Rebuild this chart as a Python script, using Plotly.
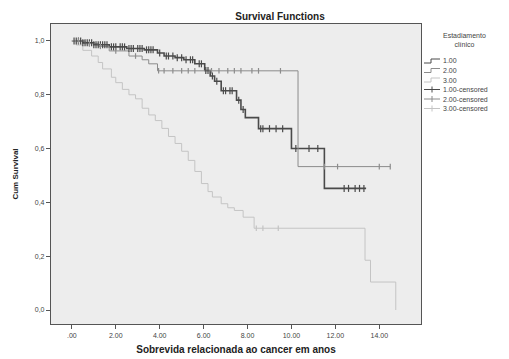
import plotly.graph_objects as go
import numpy as np

# ---- data ----
group_labels = ["1.00", "2.00", "3.00"]
censor_labels = ["1.00-censored", "2.00-censored", "3.00-censored"]

times1 = [0, 0.5, 1.0, 1.7, 2.5, 3.3, 3.9, 4.2, 4.7, 5.1, 5.6, 6.05, 6.3, 6.5, 6.8, 7.5, 7.7, 7.9, 8.5, 10.0, 11.5, 13.4]
surv1 = [1.0, 0.993, 0.986, 0.978, 0.972, 0.967, 0.955, 0.944, 0.938, 0.93, 0.915, 0.89, 0.87, 0.85, 0.815, 0.78, 0.745, 0.715, 0.674, 0.60, 0.452, 0.452]

times2 = [0, 0.6, 1.2, 1.7, 2.6, 3.2, 3.5, 3.9, 10.3, 14.5]
surv2 = [1.0, 0.99, 0.98, 0.963, 0.944, 0.93, 0.915, 0.889, 0.533, 0.533]

times3 = [0, 0.2, 0.5, 0.9, 1.2, 1.4, 1.8, 2.0, 2.3, 2.6, 2.9, 3.2, 3.5, 3.8, 4.1, 4.4, 4.7, 5.0,
          5.3, 5.6, 5.9, 6.2, 6.4, 6.8, 7.1, 7.4, 7.8, 8.3, 13.35, 13.6, 14.75]
surv3 = [1.0, 0.985, 0.965, 0.944, 0.92, 0.896, 0.865, 0.845, 0.82, 0.80, 0.785, 0.75, 0.725, 0.704, 0.675, 0.645, 0.619, 0.59,
         0.556, 0.515, 0.47, 0.44, 0.42, 0.395, 0.38, 0.37, 0.345, 0.304, 0.185, 0.104, 0.0]

cens1_t = [0.1, 0.2, 0.3, 0.4, 0.5, 0.6, 0.7, 0.8, 0.9, 1.0, 1.1, 1.2, 1.3, 1.4, 1.5, 1.6, 1.8, 1.9, 2.0, 2.2, 2.3,
           2.4, 2.6, 2.7, 2.8, 3.0, 3.1, 3.2, 3.4, 3.5, 3.6, 3.7, 4.0, 4.3, 4.4, 4.6, 4.8, 5.0, 5.2, 5.4, 5.5,
           5.8, 5.9, 6.1, 6.2, 6.4, 6.6, 6.9, 7.0, 7.2, 7.3, 7.6, 7.8, 8.6, 8.7, 9.0, 9.3, 9.6, 10.2, 10.8,
           11.2, 12.4, 12.6, 12.9, 13.1, 13.3]
cens2_t = [0.3, 0.8, 1.3, 2.0, 2.9, 3.95, 4.2, 4.6, 5.0, 5.3, 5.6, 6.36, 6.7, 7.1, 7.4, 7.7, 8.2, 8.5, 9.5,
           11.5, 12.1, 14.0, 14.5]
cens3_t = [8.4, 8.7, 9.4]

x_ticks = [0, 2, 4, 6, 8, 10, 12, 14]
x_tick_text = [".00", "2.00", "4.00", "6.00", "8.00", "10.00", "12.00", "14.00"]
y_ticks = [0.0, 0.2, 0.4, 0.6, 0.8, 1.0]
y_tick_text = ["0,0", "0,2", "0,4", "0,6", "0,8", "1,0"]

colors = ["#4a4a4a", "#8c8c8c", "#c4c4c4"]
widths = [1.6, 1.0, 1.0]
mark_sizes = [5, 4, 4]


def step_value(ts, ss, t):
    idx = np.searchsorted(ts, t, side="right") - 1
    return ss[max(idx, 0)]


fig = go.Figure()
series = [(times1, surv1, cens1_t), (times2, surv2, cens2_t), (times3, surv3, cens3_t)]
for i, (ts, ss, ct) in enumerate(series):
    fig.add_trace(go.Scatter(x=ts, y=ss, mode="lines", line_shape="hv",
                             line=dict(color=colors[i], width=widths[i]),
                             name=group_labels[i], showlegend=False))
for i, (ts, ss, ct) in enumerate(series):
    cy = [step_value(ts, ss, t) for t in ct]
    fig.add_trace(go.Scatter(x=ct, y=cy, mode="markers",
                             marker=dict(symbol="line-ns-open", size=mark_sizes[i], color=colors[i],
                                         line=dict(color=colors[i], width=1.2)),
                             name=censor_labels[i], showlegend=False))

# ---- layout ----
W, H = 509, 359
L, R, T, B = 51, 421, 24, 324
fig.update_layout(
    width=W, height=H,
    margin=dict(l=L, r=W - R, t=T, b=H - B, pad=0),
    paper_bgcolor="white", plot_bgcolor="#ededed",
    font=dict(family="Liberation Sans, Arial, sans-serif", color="#333333", size=7),
    title=dict(text="<b>Survival Functions</b>", x=280 / W, xanchor="center",
               y=1 - 16 / H, yanchor="middle", font=dict(size=10, color="#222222")),
    showlegend=False,
)
fig.update_xaxes(range=[-0.95, 15.9], tickvals=x_ticks, ticktext=x_tick_text, automargin=False,
                 showgrid=False, zeroline=False, showline=True, linecolor="#555555",
                 linewidth=1.2, mirror=True, ticks="outside", ticklen=4, tickcolor="#555555",
                 tickfont=dict(size=7, color="#444444"),
                 title=dict(text="<b>Sobrevida relacionada ao cancer em anos</b>",
                            font=dict(size=10, color="#222222"), standoff=8))
fig.update_yaxes(range=[-0.052, 1.063], tickvals=y_ticks, ticktext=y_tick_text, automargin=False,
                 showgrid=False, zeroline=False, showline=True, linecolor="#555555",
                 linewidth=1.2, mirror=True, ticks="outside", ticklen=4, tickcolor="#555555",
                 tickfont=dict(size=7, color="#444444"),
                 title=dict(text="<b>Cum Survival</b>", font=dict(size=8, color="#222222"),
                            standoff=14))


# ---- manual legend ----
def px(x):
    return (x - L) / (R - L)


def py(y):
    return (B - y) / (B - T)


fig.add_annotation(text="Estadiamento<br>clínico", x=px(464), y=py(40), xref="paper", yref="paper",
                   showarrow=False, xanchor="center", yanchor="middle",
                   font=dict(size=7, color="#444444"))
leg_y = [61, 70.5, 80, 89.5, 99, 108.5]
leg_labels = group_labels + censor_labels
leg_colors = colors + colors
for k, (yy, lab, col) in enumerate(zip(leg_y, leg_labels, leg_colors)):
    fig.add_annotation(text=lab, x=px(441), y=py(yy), xref="paper", yref="paper",
                       showarrow=False, xanchor="left", yanchor="middle",
                       font=dict(size=7, color="#444444"))
    if k < 3:
        path = f"M {px(424)} {py(yy + 2)} L {px(431)} {py(yy + 2)} L {px(431)} {py(yy - 2)} L {px(440)} {py(yy - 2)}"
        fig.add_shape(type="path", path=path, xref="paper", yref="paper",
                      line=dict(color=col, width=1))
    else:
        fig.add_shape(type="line", x0=px(424), x1=px(440), y0=py(yy), y1=py(yy),
                      xref="paper", yref="paper", line=dict(color=col, width=1))
        fig.add_shape(type="line", x0=px(432), x1=px(432), y0=py(yy - 3), y1=py(yy + 3),
                      xref="paper", yref="paper", line=dict(color=col, width=1))

fig.write_html("out.html", config={"displayModeBar": False},
               post_script="document.body.style.margin='0';document.body.style.overflow='hidden';")
